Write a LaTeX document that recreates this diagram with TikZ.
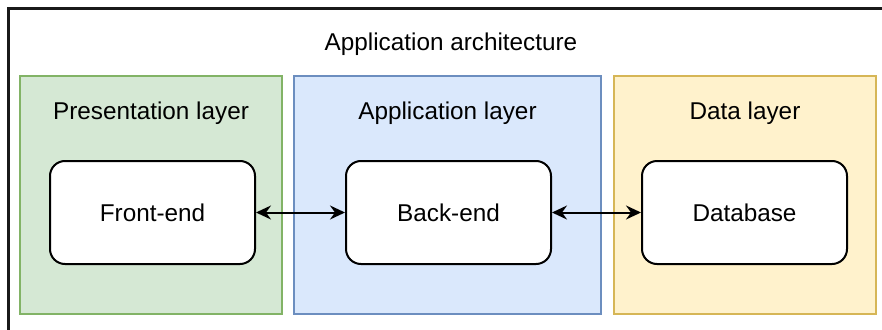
\documentclass[tikz,border=0pt]{standalone}
\usepackage{fontspec}
\setmainfont{Liberation Sans}
\usetikzlibrary{arrows.meta}
\definecolor{gfill}{HTML}{D5E8D4}
\definecolor{gline}{HTML}{82B366}
\definecolor{bfill}{HTML}{DAE8FC}
\definecolor{bline}{HTML}{6C8EBF}
\definecolor{yfill}{HTML}{FFF2CC}
\definecolor{yline}{HTML}{D6B656}
\begin{document}
\begin{tikzpicture}[x=1pt,y=-1pt,
  layer/.style={line width=1.6pt},
  comp/.style={draw=black,fill=white,line width=2pt,rounded corners=15pt},
  lbl/.style={anchor=base,inner sep=0pt,font=\fontsize{24.3}{28}\selectfont},
  link/.style={line width=2pt,{Stealth[length=15pt,width=14pt,inset=5pt]}-{Stealth[length=15pt,width=14pt,inset=5pt]}}]
\useasboundingbox (0,0) rectangle (882,329);
\begin{scope}
\clip (0,0) rectangle (882,329);
\draw[line width=2.6pt,black!90] (8.5,8.5) rectangle (900,350);
\end{scope}
\node[lbl] (title) at (451,50) {Application architecture};
\draw[layer,draw=gline,fill=gfill] (20,76) rectangle (282,314);
\draw[layer,draw=bline,fill=bfill] (294,76) rectangle (601,314);
\draw[layer,draw=yline,fill=yfill] (614,76) rectangle (876,314);
\node[lbl] (pl) at (151,119) {Presentation layer};
\node[lbl] (al) at (447.5,119) {Application layer};
\node[lbl] (dl) at (745,119) {Data layer};
\node[comp,minimum width=205pt,minimum height=103pt,inner sep=0pt] (fe) at (152.5,212.5) {};
\node[comp,minimum width=205pt,minimum height=103pt,inner sep=0pt] (be) at (448.5,212.5) {};
\node[comp,minimum width=205pt,minimum height=103pt,inner sep=0pt] (db) at (744.5,212.5) {};
\node[lbl] (fet) at (152.5,221) {Front-end};
\node[lbl] (bet) at (448.5,221) {Back-end};
\node[lbl] (dbt) at (744.5,221) {Database};
\draw[link] (fe.east) -- (be.west);
\draw[link] (be.east) -- (db.west);
\end{tikzpicture}
\end{document}
